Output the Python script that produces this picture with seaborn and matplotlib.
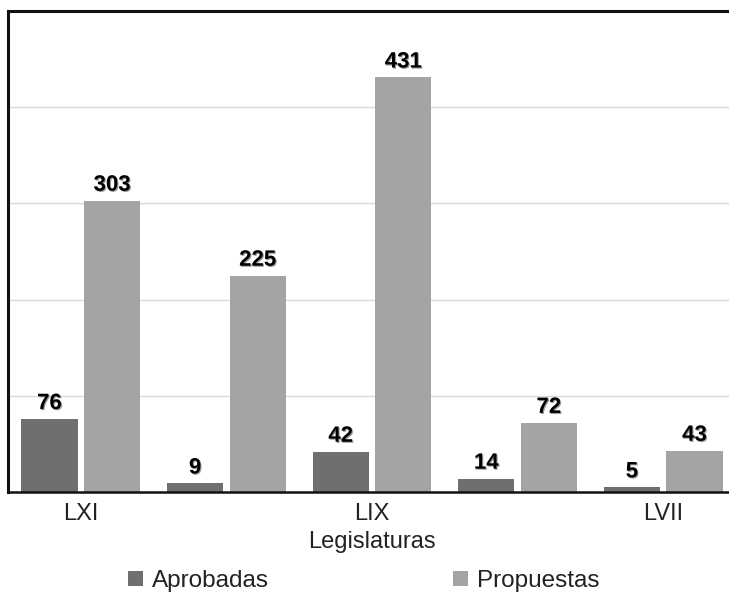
import matplotlib
matplotlib.use("Agg")
import matplotlib.pyplot as plt
import seaborn as sns
import pandas as pd
import matplotlib.patheffects as pe
from matplotlib.patches import Patch

legislaturas = ["LXI", "LX", "LIX", "LVIII", "LVII"]
tick_labels = ["LXI", "", "LIX", "", "LVII"]
aprobadas = [76, 9, 42, 14, 5]
propuestas = [303, 225, 431, 72, 43]
series = ["Aprobadas", "Propuestas"]
colors = ["#6f6f6f", "#a4a4a4"]

df = pd.DataFrame({
    "Legislatura": legislaturas * 2,
    "Serie": [series[0]] * len(legislaturas) + [series[1]] * len(legislaturas),
    "Valor": aprobadas + propuestas,
})

sns.set_theme(style="white")
plt.rcParams["font.family"] = ["Liberation Sans", "DejaVu Sans"]

W, H = 729, 594
fig = plt.figure(figsize=(W / 100, H / 100), dpi=100)
ax = fig.add_axes([8 / W, 102 / H, 728 / W, (492 - 11) / H])

sns.barplot(data=df, x="Legislatura", y="Valor", hue="Serie", order=legislaturas,
            hue_order=series, palette=colors, width=0.86, gap=0.1, ax=ax,
            legend=False, saturation=1, edgecolor="none")

ax.set_ylim(0, 500)
ax.set_xlim(-0.5, 4.5)
ax.set_yticks([100, 200, 300, 400, 500])
ax.set_yticklabels([])
ax.yaxis.grid(True, color="#d9d9d9", linewidth=1)
ax.set_axisbelow(True)
ax.tick_params(axis="both", length=0)
ax.tick_params(axis="x", pad=8)
ax.set_xticks(range(len(legislaturas)))
ax.set_xticklabels(tick_labels, fontsize=17, color="#222222")
ax.set_xlabel("Legislaturas", fontsize=17, color="#222222", labelpad=4)
ax.set_ylabel("")

for side in ["left", "top", "bottom"]:
    ax.spines[side].set_visible(True)
    ax.spines[side].set_color("#111111")
ax.spines["left"].set_linewidth(2.2)
ax.spines["top"].set_linewidth(2.2)
ax.spines["bottom"].set_linewidth(1.8)
ax.spines["right"].set_visible(False)

for cont in ax.containers:
    ax.bar_label(cont, padding=3.5, fontsize=16, fontweight="bold", color="black",
                 path_effects=[pe.withSimplePatchShadow(offset=(0.8, -0.8), shadow_rgbFace="#555555", alpha=0.6)])

handles = [Patch(facecolor=c, edgecolor="none") for c in colors]
fig.legend(handles, series, loc="center", bbox_to_anchor=(0.499, (594 - 581) / H),
           ncol=2, frameon=False, fontsize=17.5, handlelength=0.62, handleheight=0.62,
           handletextpad=0.35, columnspacing=7.6, labelcolor="#222222")

fig.savefig("out.png", dpi=100)
